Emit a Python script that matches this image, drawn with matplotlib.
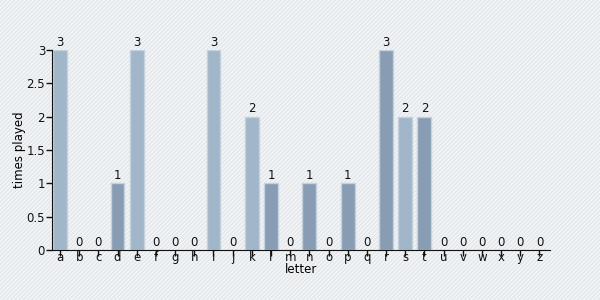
import matplotlib
matplotlib.use("Agg")
import matplotlib.pyplot as plt
from matplotlib.patches import Rectangle

letters = list("abcdefghijklmnopqrstuvwxyz")
times_played = [3, 0, 0, 1, 3, 0, 0, 0, 3, 0, 2, 1, 0, 1, 0, 1, 0, 3, 2, 2, 0, 0, 0, 0, 0, 0]
shade = ["l", "l", "l", "d", "l", "l", "l", "l", "l", "l", "l", "d", "l",
         "d", "l", "d", "l", "d", "l", "d", "l", "l", "l", "l", "l", "l"]
yticks = [0, 0.5, 1, 1.5, 2, 2.5, 3]

colors = {"l": "#a2b6ca", "d": "#889db3"}

plt.rcParams["hatch.color"] = "#f4f6f8"
plt.rcParams["hatch.linewidth"] = 1.0

fig = plt.figure(figsize=(6, 3), dpi=100)
fig.patch.set_facecolor("#e4e8eb")
bg = Rectangle((0, 0), 1, 1, transform=fig.transFigure, facecolor="#e4e8eb",
               edgecolor="#f4f6f8", hatch="////////", linewidth=0, zorder=-10)
fig.patches.append(bg)

ax = fig.add_axes((52 / 600, 50 / 300, 498 / 600, 200 / 300))
ax.patch.set_alpha(0)

x = range(len(letters))
ax.bar(x, times_played, width=0.72, color=[colors[s] for s in shade],
       edgecolor="#c3d1de", linewidth=1)

for i, v in zip(x, times_played):
    ax.text(i, v + 0.02, str(v), ha="center", va="bottom", fontsize=8.5, color="#111111")

ax.set_xlim(-0.42, 25.55)
ax.set_ylim(0, 3)
ax.set_yticks(yticks)
ax.set_yticklabels(["0", "0.5", "1", "1.5", "2", "2.5", "3"])
ax.set_xticks(list(x))
ax.set_xticklabels(letters)
ax.tick_params(axis="both", labelsize=8.5, length=4, width=1, colors="#111111")
ax.tick_params(axis="x", pad=-3)
ax.tick_params(axis="y", pad=1)

for side in ("top", "right"):
    ax.spines[side].set_visible(False)
for side in ("left", "bottom"):
    ax.spines[side].set_color("#111111")

ax.set_xlabel("letter", fontsize=8.5, labelpad=-1)
ax.set_ylabel("times played", fontsize=8.5, labelpad=0)

fig.savefig("out.png", dpi=100)
